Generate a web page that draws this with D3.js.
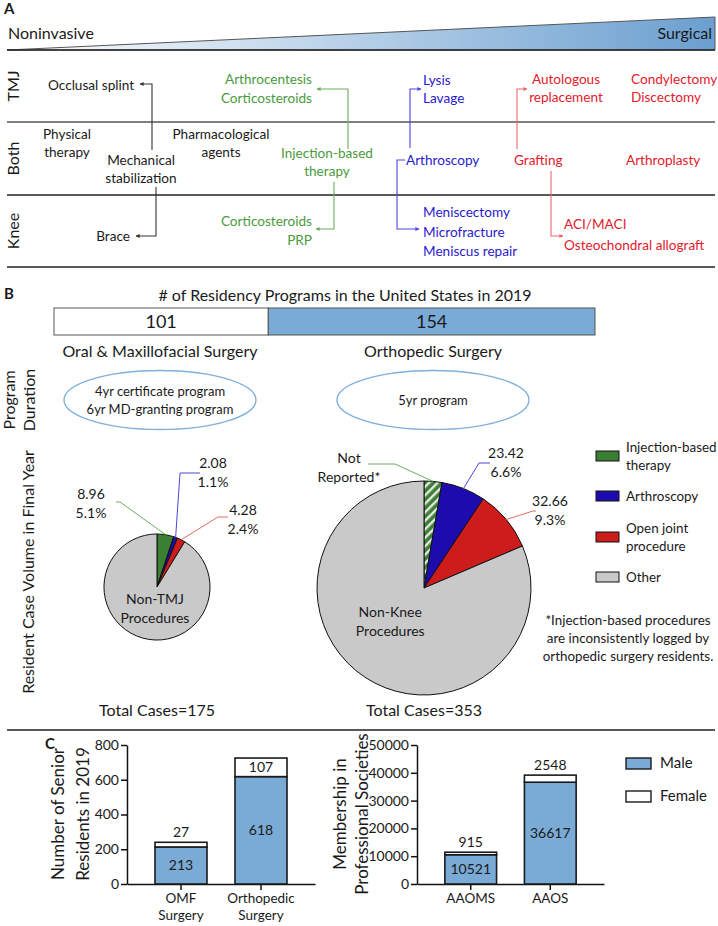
<!DOCTYPE html>
<html><head><meta charset="utf-8">
<script src="https://cdn.jsdelivr.net/npm/d3@7"></script>
<style>
body{margin:0;background:#fff}
text{font-family:Lato,'Open Sans',sans-serif;fill:#1a1a1a}
</style>
</head><body>
<svg id="fig" width="718" height="926"></svg>
<script>
// ---------------- DATA ----------------
// Panel A
const spectrumLabels = ["Noninvasive", "Surgical"];
const jointRows = ["TMJ", "Both", "Knee"];
const aTexts = [
  ["Occlusal splint"], ["Arthrocentesis", "Corticosteroids"], ["Lysis", "Lavage"],
  ["Autologous", "replacement"], ["Condylectomy", "Discectomy"],
  ["Physical", "therapy"], ["Mechanical", "stabilization"], ["Pharmacological", "agents"],
  ["Injection-based", "therapy"], ["Arthroscopy"], ["Grafting"], ["Arthroplasty"],
  ["Brace"], ["Corticosteroids", "PRP"], ["Meniscectomy", "Microfracture", "Meniscus repair"],
  ["ACI/MACI", "Osteochondral allograft"]
];
const aTypes = ["conservative", "injection", "arthroscopic", "open", "open",
  "conservative", "conservative", "conservative", "injection", "arthroscopic", "open", "open",
  "conservative", "injection", "arthroscopic", "open"];
const aLinkTypes = ["conservative", "injection", "conservative", "injection",
  "arthroscopic", "arthroscopic", "open", "open"];

// Panel B
const programNames = ["Oral & Maxillofacial Surgery", "Orthopedic Surgery"];
const programCounts = [101, 154];
const programDurations = [["4yr certificate program", "6yr MD-granting program"], ["5yr program"]];
const caseCategories = ["Injection-based therapy", "Arthroscopy", "Open joint procedure", "Other"];
const omfCases = [8.96, 2.08, 4.28, 159.68];
const orthoCases = [9.5, 23.42, 32.66, 287.42];
const omfCaseLabels = [["8.96", "5.1%"], ["2.08", "1.1%"], ["4.28", "2.4%"]];
const orthoCaseLabels = [["Not", "Reported*"], ["23.42", "6.6%"], ["32.66", "9.3%"]];
const totalCases = [175, 353];
const pieCenterLabels = [["Non-TMJ", "Procedures"], ["Non-Knee", "Procedures"]];
const footnoteLines = ["*Injection-based procedures", "are inconsistently logged by", "orthopedic surgery residents."];

// Panel C
const residentGroups = [["OMF", "Surgery"], ["Orthopedic", "Surgery"]];
const residentMale = [213, 618];
const residentFemale = [27, 107];
const residentTicks = [0, 200, 400, 600, 800];
const societyGroups = [["AAOMS"], ["AAOS"]];
const societyMale = [10521, 36617];
const societyFemale = [915, 2548];
const societyTicks = [0, 10000, 20000, 30000, 40000, 50000];
const sexLabels = ["Male", "Female"];

// ---------------- STYLE / LAYOUT ----------------
const svg = d3.select("#fig");
const textColor = {conservative: "#1a1a1a", injection: "#4a9a3e", arthroscopic: "#2a1acc", open: "#e2202b"};
const lineColor = {conservative: "#333", injection: "#6aad5e", arthroscopic: "#4b45dd", open: "#e66a6a"};
const pieColors = ["#3b7f33", "#1c0cae", "#cc1c1c", "#c9c9c9"];
const barBlue = "#7aaad6";

const defs = svg.append("defs");
const grad = defs.append("linearGradient").attr("id", "wedgeGrad");
grad.append("stop").attr("offset", "0%").attr("stop-color", "#ffffff");
grad.append("stop").attr("offset", "100%").attr("stop-color", "#6b9fd0");
Object.keys(lineColor).forEach(k => {
  defs.append("marker").attr("id", "arr-" + k).attr("viewBox", "0 0 10 10")
    .attr("refX", 9).attr("refY", 5).attr("markerWidth", 4).attr("markerHeight", 4)
    .attr("markerUnits", "userSpaceOnUse").attr("orient", "auto")
    .append("path").attr("d", "M0,0L10,5L0,10z").attr("fill", lineColor[k]);
});
const hatch = defs.append("pattern").attr("id", "hatch").attr("patternUnits", "userSpaceOnUse")
  .attr("width", 6).attr("height", 6).attr("patternTransform", "rotate(45)");
hatch.append("rect").attr("width", 6).attr("height", 6).attr("fill", pieColors[0]);
hatch.append("rect").attr("width", 2.4).attr("height", 6).attr("fill", "#e8e8e8");

// ---------------- PANEL A ----------------
svg.append("text").attr("x", 4).attr("y", 14).attr("font-size", 15).attr("font-weight", "bold").text("A");
svg.append("polygon").attr("points", "7,50 715,17 715,50").attr("fill", "url(#wedgeGrad)")
  .attr("stroke", "#555").attr("stroke-width", 1);
svg.append("text").attr("x", 8).attr("y", 39).attr("font-size", 16).text(spectrumLabels[0]);
svg.append("text").attr("x", 712).attr("y", 39).attr("font-size", 16).attr("text-anchor", "end").text(spectrumLabels[1]);

const rowLines = [50, 122, 195, 267];
rowLines.forEach((y, i) => svg.append("line").attr("x1", 7).attr("x2", 715).attr("y1", y).attr("y2", y)
  .attr("stroke", i === 1 ? "#555" : "#222").attr("stroke-width", 1.6));
jointRows.forEach((r, i) => {
  const cy = (rowLines[i] + rowLines[i + 1]) / 2;
  svg.append("text").attr("transform", `translate(19,${cy}) rotate(-90)`).attr("text-anchor", "middle")
    .attr("font-size", 16).text(r);
});

// [x, first baseline, anchor, line spacing]
const aLayout = [
  [48, 90, "start", 18], [312, 84, "end", 19], [423, 85, "start", 18], [566, 84, "middle", 18], [631, 84, "start", 18],
  [67, 139, "middle", 18], [141, 165, "middle", 18], [221, 139, "middle", 18], [327, 158, "middle", 18],
  [406, 165, "start", 18], [514, 165, "start", 18], [626, 165, "start", 18],
  [130, 241, "end", 18], [312, 226, "end", 19], [423, 217, "start", 19.5], [564, 229, "start", 21]
];
aTexts.forEach((lines, i) => {
  const [x, y, anchor, dy] = aLayout[i];
  const t = svg.append("text").attr("x", x).attr("y", y).attr("text-anchor", anchor)
    .attr("font-size", 13.6).style("fill", textColor[aTypes[i]]);
  lines.forEach((l, j) => t.append("tspan").attr("x", x).attr("y", y + j * dy).text(l));
});
const aLinks = [
  [[152, 150], [152, 84], [140, 84]],
  [[348, 149], [348, 89], [317, 89]],
  [[156, 187], [156, 236], [136, 236]],
  [[334, 182], [334, 229], [316, 229]],
  [[410, 148], [410, 89], [421, 89]],
  [[405, 160], [397, 160], [397, 229], [419, 229]],
  [[517, 149], [517, 89], [527, 89]],
  [[551, 171], [551, 236], [563, 236]]
];
aLinks.forEach((pts, i) => {
  svg.append("path").attr("d", d3.line()(pts)).attr("fill", "none")
    .attr("stroke", lineColor[aLinkTypes[i]]).attr("stroke-width", 1.1)
    .attr("marker-end", `url(#arr-${aLinkTypes[i]})`);
});

// ---------------- PANEL B ----------------
svg.append("text").attr("x", 4).attr("y", 299).attr("font-size", 15).attr("font-weight", "bold").text("B");
svg.append("text").attr("x", 345).attr("y", 301).attr("text-anchor", "middle").attr("font-size", 16)
  .text("# of Residency Programs in the United States in 2019");

const totalPrograms = d3.sum(programCounts);
const xProg = d3.scaleLinear().domain([0, totalPrograms]).range([54, 595]);
let cum = 0;
const progSegs = programCounts.map(v => { const s = {x0: cum, x1: cum + v, v}; cum += v; return s; });
svg.selectAll(".prog").data(progSegs).join("rect")
  .attr("x", d => xProg(d.x0)).attr("width", d => xProg(d.x1) - xProg(d.x0))
  .attr("y", 308).attr("height", 27)
  .attr("fill", (d, i) => i === 0 ? "#fff" : barBlue).attr("stroke", "#555").attr("stroke-width", 1);
svg.selectAll(".progLab").data(progSegs).join("text")
  .attr("x", d => (xProg(d.x0) + xProg(d.x1)) / 2).attr("y", 328).attr("text-anchor", "middle")
  .attr("font-size", 18).text(d => d.v);

const colX = [160, 433];
programNames.forEach((n, i) => svg.append("text").attr("x", colX[i]).attr("y", 357)
  .attr("text-anchor", "middle").attr("font-size", 16).text(n));
programDurations.forEach((lines, i) => {
  svg.append("ellipse").attr("cx", colX[i]).attr("cy", 400).attr("rx", 96).attr("ry", 29.5)
    .attr("fill", "none").attr("stroke", "#7fb0dc").attr("stroke-width", 1.4);
  const y0 = lines.length === 1 ? 405 : 396;
  lines.forEach((l, j) => svg.append("text").attr("x", colX[i]).attr("y", y0 + j * 18)
    .attr("text-anchor", "middle").attr("font-size", 13).text(l));
});
["Program", "Duration"].forEach((l, j) => svg.append("text")
  .attr("transform", `translate(${15 + j * 20},400) rotate(-90)`).attr("text-anchor", "middle")
  .attr("font-size", 16).text(l));
svg.append("text").attr("transform", "translate(34,572) rotate(-90)").attr("text-anchor", "middle")
  .attr("font-size", 16).text("Resident Case Volume in Final Year");

// pies
const rScale = d3.scaleLinear().domain([0, d3.max(totalCases)]).range([0, 107]);
const pieGen = d3.pie().sort(null).startAngle(0);
const pieSets = [
  {vals: omfCases, cx: 157, cy: 587, labels: omfCaseLabels, total: totalCases[0], center: pieCenterLabels[0], hatch: false, cShift: [4, -4],
    leaders: [[[120, 502], [116, 502]], [[180, 473], [200, 473]], [[218, 517], [228, 517]]],
    labPos: [[91, 499], [213, 468], [243, 515]]},
  {vals: orthoCases, cx: 424, cy: 588, labels: orthoCaseLabels, total: totalCases[1], center: pieCenterLabels[1], hatch: true, cShift: [-9, -9],
    leaders: [[[395, 464], [368, 464]], [[479, 463], [490, 463]], [[533, 511], [536, 511]]],
    labPos: [[349, 463], [506, 458], [550, 506]]}
];
pieSets.forEach(ps => {
  const r = rScale(ps.total);
  const arcs = pieGen(ps.vals);
  const arc = d3.arc().innerRadius(0).outerRadius(r);
  const g = svg.append("g").attr("transform", `translate(${ps.cx},${ps.cy})`);
  g.selectAll("path").data(arcs).join("path").attr("d", arc)
    .attr("fill", (d, i) => (i === 0 && ps.hatch) ? "url(#hatch)" : pieColors[i])
    .attr("stroke", "#111").attr("stroke-width", 1);
  // center label in "Other"
  const la = d3.arc().innerRadius(r * 0.42).outerRadius(r * 0.42);
  const c = la.centroid(arcs[3]);
  const t = g.append("text").attr("text-anchor", "middle").attr("font-size", 14);
  ps.center.forEach((l, j) => t.append("tspan").attr("x", c[0] + ps.cShift[0]).attr("y", c[1] + ps.cShift[1] + j * 19).text(l));
  // leader lines
  ps.labels.forEach((lab, i) => {
    const a = arcs[i];
    const mid = (a.startAngle + a.endAngle) / 2;
    const p0 = [ps.cx + Math.sin(mid) * r, ps.cy - Math.cos(mid) * r];
    svg.append("path").attr("d", d3.line()([p0, ...ps.leaders[i]])).attr("fill", "none")
      .attr("stroke", lineColor[["injection", "arthroscopic", "open"][i]]).attr("stroke-width", 1);
    const [lx, ly] = ps.labPos[i];
    lab.forEach((l, j) => svg.append("text").attr("x", lx).attr("y", ly + j * 19)
      .attr("text-anchor", "middle").attr("font-size", 14).text(l));
  });
  svg.append("text").attr("x", ps.cx).attr("y", 716).attr("text-anchor", "middle").attr("font-size", 16)
    .text("Total Cases=" + ps.total);
});

// legend B
caseCategories.forEach((c, i) => {
  const y = [451, 491, 532, 572][i];
  svg.append("rect").attr("x", 596).attr("y", y).attr("width", 23).attr("height", 10)
    .attr("fill", pieColors[i]).attr("stroke", "#111").attr("stroke-width", 1);
  const parts = c === "Injection-based therapy" ? ["Injection-based", "therapy"]
    : c === "Open joint procedure" ? ["Open joint", "procedure"] : [c];
  parts.forEach((p, j) => svg.append("text").attr("x", 626)
    .attr("y", y + 10 + (parts.length === 2 ? -9 + j * 18 : 0)).attr("font-size", 13.4).text(p));
});
footnoteLines.forEach((l, j) => svg.append("text").attr("x", 628).attr("y", 625 + j * 18)
  .attr("text-anchor", "middle").attr("font-size", 13.4).text(l));

svg.append("line").attr("x1", 7).attr("x2", 715).attr("y1", 730).attr("y2", 730).attr("stroke", "#222").attr("stroke-width", 1.6);

// ---------------- PANEL C ----------------
svg.append("text").attr("x", 45).attr("y", 749).attr("font-size", 15).attr("font-weight", "bold").text("C");

function stacked(cats, male, female, ticks, xRange, titleLines, titleX) {
  const y = d3.scaleLinear().domain([0, d3.max(ticks)]).range([884, 745]);
  const x = d3.scaleBand().domain(cats.map(c => c.join(" "))).range(xRange)
    .paddingInner(0.35).paddingOuter(0.35);
  const ya = svg.append("g").attr("transform", `translate(${xRange[0]},0)`)
    .call(d3.axisLeft(y).tickValues(ticks).tickFormat(d3.format("d")).tickSize(6).tickSizeOuter(0).tickPadding(2));
  const xa = svg.append("g").attr("transform", `translate(0,884)`)
    .call(d3.axisBottom(x).tickSize(6).tickSizeOuter(0));
  xa.selectAll("text").remove();
  [ya, xa].forEach(a => {
    a.select(".domain").attr("stroke", "#111").attr("stroke-width", 1.5);
    a.selectAll(".tick line").attr("stroke", "#111").attr("stroke-width", 1.5);
    a.selectAll("text").attr("font-size", 14).attr("font-family", "Lato,'Open Sans',sans-serif").style("fill", "#1a1a1a");
  });
  cats.forEach((c, i) => {
    const key = c.join(" ");
    const bx = x(key), bw = x.bandwidth();
    svg.append("rect").attr("x", bx).attr("width", bw).attr("y", y(male[i])).attr("height", y(0) - y(male[i]))
      .attr("fill", barBlue).attr("stroke", "#1a1a1a").attr("stroke-width", 1.6);
    svg.append("rect").attr("x", bx).attr("width", bw).attr("y", y(male[i] + female[i]))
      .attr("height", y(male[i]) - y(male[i] + female[i]))
      .attr("fill", "#fff").attr("stroke", "#1a1a1a").attr("stroke-width", 1.6);
    svg.append("text").attr("x", bx + bw / 2).attr("y", (y(0) + y(male[i])) / 2 + 5)
      .attr("text-anchor", "middle").attr("font-size", 14).text(male[i]);
    const segH = y(male[i]) - y(male[i] + female[i]);
    const fy = segH > 16 ? (y(male[i]) + y(male[i] + female[i])) / 2 + 5 : y(male[i] + female[i]) - 5;
    svg.append("text").attr("x", bx + bw / 2).attr("y", fy).attr("text-anchor", "middle")
      .attr("font-size", 14).text(female[i]);
    c.forEach((l, j) => svg.append("text").attr("x", bx + bw / 2).attr("y", 903 + j * 17)
      .attr("text-anchor", "middle").attr("font-size", 13.5).text(l));
  });
  titleLines.forEach((l, j) => svg.append("text")
    .attr("transform", `translate(${titleX[j]},814) rotate(-90)`).attr("text-anchor", "middle")
    .attr("font-size", 17).text(l));
}
stacked(residentGroups, residentMale, residentFemale, residentTicks, [127, 315],
  ["Number of Senior", "Residents in 2019"], [64, 89]);
stacked(societyGroups, societyMale, societyFemale, societyTicks, [417, 604],
  ["Membership in", "Professional Societies"], [346, 368]);

sexLabels.forEach((s, i) => {
  const y = 758 + i * 33;
  svg.append("rect").attr("x", 626).attr("y", y).attr("width", 25).attr("height", 11)
    .attr("fill", i === 0 ? barBlue : "#fff").attr("stroke", "#1a1a1a").attr("stroke-width", 1.4);
  svg.append("text").attr("x", 660).attr("y", y + 10).attr("font-size", 15).text(s);
});
</script>
</body></html>
